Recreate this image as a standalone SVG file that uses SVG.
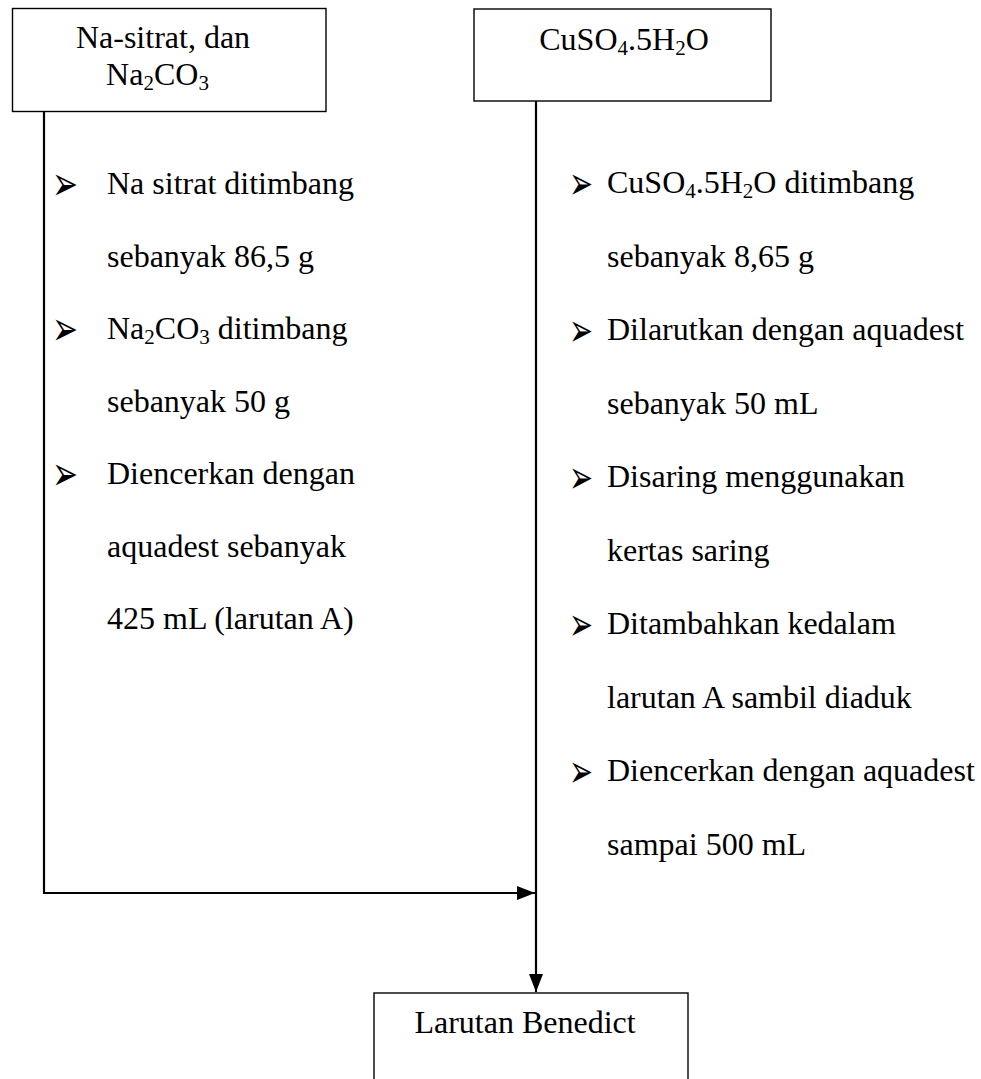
<svg xmlns="http://www.w3.org/2000/svg" width="981" height="1079" viewBox="0 0 981 1079">
  <style>
    .box { fill: #fff; stroke: #000; stroke-width: 1.4; }
    .wire { fill: none; stroke: #000; stroke-width: 2.2; }
    text { font-family: "Liberation Serif", "Times New Roman", serif; font-size: 32px; fill: #000; }
    .mid { text-anchor: middle; }
    .bul { font-family: "DejaVu Sans", sans-serif; font-size: 48px; }
    .bul-r { font-family: "DejaVu Sans", sans-serif; font-size: 46px; }
    .sub { font-size: 21px; }
  </style>
  <defs>
    <marker id="arrow" viewBox="0 0 18 14" refX="18" refY="7" markerWidth="18" markerHeight="14" markerUnits="userSpaceOnUse" orient="auto">
      <path d="M0,0 L18,7 L0,14 z" fill="#000"/>
    </marker>
  </defs>

  <!-- connectors -->
  <g id="connectors">
    <polyline class="wire" points="44,111 44,893 535,893" marker-end="url(#arrow)"/>
    <line class="wire" x1="536" y1="101" x2="536" y2="992" marker-end="url(#arrow)"/>
  </g>

  <!-- starting material: Na-sitrat and Na2CO3 -->
  <g id="node-nasitrat">
    <rect class="box" x="12.5" y="8.5" width="313.5" height="103"/>
    <text class="mid" x="163" y="48">Na-sitrat, dan</text>
    <text class="mid" x="157.5" y="85">Na<tspan class="sub" dy="5">2</tspan><tspan dy="-5">CO</tspan><tspan class="sub" dy="5">3</tspan></text>
  </g>

  <!-- starting material: CuSO4.5H2O -->
  <g id="node-cuso4">
    <rect class="box" x="474" y="9" width="297" height="92"/>
    <text class="mid" x="624" y="50">CuSO<tspan class="sub" dy="5">4</tspan><tspan dy="-5">.5H</tspan><tspan class="sub" dy="5">2</tspan><tspan dy="-5">O</tspan></text>
  </g>

  <!-- steps for solution A -->
  <g id="steps-left">
    <text class="bul" x="52" y="200" textLength="26" lengthAdjust="spacingAndGlyphs">➢</text>
    <text x="107" y="194">Na sitrat ditimbang</text>
    <text x="107" y="266.5">sebanyak 86,5 g</text>
    <text class="bul" x="52" y="345" textLength="26" lengthAdjust="spacingAndGlyphs">➢</text>
    <text x="107" y="339">Na<tspan class="sub" dy="5">2</tspan><tspan dy="-5">CO</tspan><tspan class="sub" dy="5">3</tspan><tspan dy="-5"> ditimbang</tspan></text>
    <text x="107" y="411.5">sebanyak 50 g</text>
    <text class="bul" x="52" y="490" textLength="26" lengthAdjust="spacingAndGlyphs">➢</text>
    <text x="107" y="484">Diencerkan dengan</text>
    <text x="107" y="556.5">aquadest sebanyak</text>
    <text x="107" y="629">425 mL (larutan A)</text>
  </g>

  <!-- steps for the copper sulfate solution -->
  <g id="steps-right">
    <text class="bul-r" x="569" y="199" textLength="24" lengthAdjust="spacingAndGlyphs">➢</text>
    <text x="607" y="193">CuSO<tspan class="sub" dy="5">4</tspan><tspan dy="-5">.5H</tspan><tspan class="sub" dy="5">2</tspan><tspan dy="-5">O ditimbang</tspan></text>
    <text x="607" y="266.5">sebanyak 8,65 g</text>
    <text class="bul-r" x="569" y="346" textLength="24" lengthAdjust="spacingAndGlyphs">➢</text>
    <text x="607" y="340">Dilarutkan dengan aquadest</text>
    <text x="607" y="413.5">sebanyak 50 mL</text>
    <text class="bul-r" x="569" y="493" textLength="24" lengthAdjust="spacingAndGlyphs">➢</text>
    <text x="607" y="487">Disaring menggunakan</text>
    <text x="607" y="560.5">kertas saring</text>
    <text class="bul-r" x="569" y="640" textLength="24" lengthAdjust="spacingAndGlyphs">➢</text>
    <text x="607" y="634">Ditambahkan kedalam</text>
    <text x="607" y="707.5">larutan A sambil diaduk</text>
    <text class="bul-r" x="569" y="787" textLength="24" lengthAdjust="spacingAndGlyphs">➢</text>
    <text x="607" y="781">Diencerkan dengan aquadest</text>
    <text x="607" y="854.5">sampai 500 mL</text>
  </g>

  <!-- product -->
  <g id="node-benedict">
    <rect class="box" x="374" y="993" width="314" height="100"/>
    <text class="mid" x="525" y="1033">Larutan Benedict</text>
  </g>
</svg>
